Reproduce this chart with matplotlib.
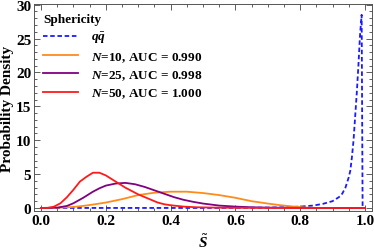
import numpy as np
import matplotlib
matplotlib.use("Agg")
import matplotlib.pyplot as plt
from matplotlib.ticker import MultipleLocator

plt.rcParams['font.family'] = 'Liberation Serif'
plt.rcParams['font.weight'] = 'bold'
plt.rcParams['mathtext.fontset'] = 'custom'
plt.rcParams['mathtext.rm'] = 'Liberation Serif:bold'
plt.rcParams['mathtext.it'] = 'Liberation Serif:italic:bold'
plt.rcParams['mathtext.bf'] = 'Liberation Serif:bold'

# curva q qbar (discontinua azul)
qq_x = [0.0, 0.5, 0.7, 0.75, 0.8, 0.84, 0.87, 0.9, 0.92, 0.93, 0.94, 0.95, 0.955,
        0.96, 0.965, 0.97, 0.975, 0.98, 0.985, 0.99, 0.993, 1.0]
qq_y = [0.0, 0.0, 0.05, 0.1, 0.2, 0.35, 0.6, 1.0, 1.6, 2.1, 3.0, 4.5, 5.5,
        7.5, 10.0, 13.5, 17.0, 21.0, 25.5, 28.5, 0.0, 0.0]

# N = 10
n10_x = [0.0, 0.05, 0.1, 0.13, 0.16, 0.2, 0.25, 0.3, 0.35, 0.4, 0.45, 0.5, 0.55,
         0.6, 0.65, 0.7, 0.74, 0.78, 0.82, 0.86, 1.0]
n10_y = [0.0, 0.02, 0.15, 0.3, 0.5, 0.8, 1.3, 1.9, 2.25, 2.4, 2.4, 2.2, 1.9,
         1.5, 1.0, 0.65, 0.4, 0.2, 0.05, 0.0, 0.0]

# N = 25
n25_x = [0.0, 0.05, 0.08, 0.1, 0.13, 0.16, 0.18, 0.2, 0.23, 0.26, 0.29, 0.32, 0.35,
         0.38, 0.41, 0.44, 0.47, 0.5, 0.55, 0.6, 0.65, 0.7, 0.8, 1.0]
n25_y = [0.0, 0.05, 0.3, 0.7, 1.5, 2.4, 2.9, 3.3, 3.6, 3.7, 3.5, 3.1, 2.6,
         2.1, 1.6, 1.2, 0.9, 0.65, 0.35, 0.2, 0.1, 0.05, 0.01, 0.0]

# N = 50
n50_x = [0.0, 0.02, 0.04, 0.06, 0.08, 0.1, 0.12, 0.14, 0.16, 0.18, 0.2, 0.22, 0.24,
         0.26, 0.28, 0.3, 0.32, 0.34, 0.36, 0.38, 0.4, 0.44, 0.48, 0.55, 0.65, 0.8, 1.0]
n50_y = [0.0, 0.0, 0.2, 0.7, 1.6, 2.7, 3.9, 4.6, 5.2, 5.2, 4.8, 4.2, 3.6,
         3.0, 2.5, 2.0, 1.6, 1.2, 0.8, 0.55, 0.4, 0.2, 0.1, 0.04, 0.01, 0.0, 0.0]

etiquetas = [r'$q\bar{q}$', r'$N$=10, AUC = 0.990', r'$N$=25, AUC = 0.998',
             r'$N$=50, AUC = 1.000']

fig = plt.figure(figsize=(3.74, 2.51), dpi=100)
ax = fig.add_axes([34 / 374, 1 - 212 / 251, 338 / 374, 207 / 251])

ax.plot(qq_x, qq_y, color='#1a1aff', lw=1.3, ls=(0, (2.5, 1.5)), label=etiquetas[0])
ax.plot(n10_x, n10_y, color='#ff8c1a', lw=1.3, label=etiquetas[1])
ax.plot(n25_x, n25_y, color='#800080', lw=1.3, label=etiquetas[2])
ax.plot(n50_x, n50_y, color='#ff1a1a', lw=1.3, label=etiquetas[3])

ax.set_xlim(-0.022, 1.022)
ax.set_ylim(-0.45, 30.1)
ax.xaxis.set_major_locator(MultipleLocator(0.2))
ax.xaxis.set_minor_locator(MultipleLocator(0.05))
ax.yaxis.set_major_locator(MultipleLocator(5))
ax.yaxis.set_minor_locator(MultipleLocator(1))
ax.set_xticks([0.0, 0.2, 0.4, 0.6, 0.8, 1.0])
ax.set_xticklabels(['0.0', '0.2', '0.4', '0.6', '0.8', '1.0'])
ax.tick_params(which='both', direction='in', top=True, right=True,
               labelsize=11, width=0.6, colors='#444444', labelcolor='black', pad=2)
ax.tick_params(which='major', length=4)
ax.tick_params(which='minor', length=2)
for s in ax.spines.values():
    s.set_linewidth(0.7)
    s.set_color('#555555')

ax.set_xlabel(r'$\tilde{S}$', fontsize=11, labelpad=4)
ax.set_ylabel('Probability Density', fontsize=11, fontweight='bold', labelpad=1)

leg = ax.legend(loc='upper left', frameon=False, fontsize=9.5, title='Sphericity',
                title_fontproperties={'weight': 'bold', 'size': 9.5},
                alignment='left', handlelength=2.6, handletextpad=1.0,
                labelspacing=0.35, borderaxespad=0.3)

fig.savefig('out.png', dpi=100)
